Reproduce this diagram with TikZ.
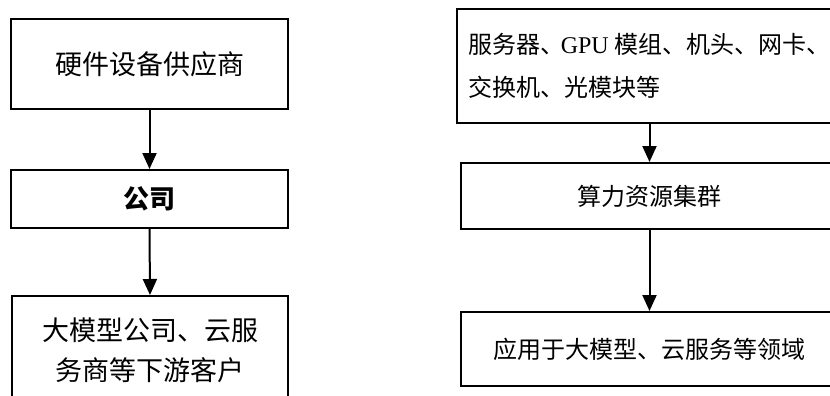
\documentclass[tikz,border=0pt]{standalone}
\usepackage{fontspec}
\setmainfont{Liberation Serif}
\newfontfamily\cjk{Noto Sans CJK SC}
\usetikzlibrary{arrows.meta}
\tikzset{
  box/.style={draw=black, line width=2pt, inner sep=0pt, align=center},
  flow/.style={line width=2pt, -{Triangle[length=16pt,width=14pt]}},
  big/.style={font=\cjk\fontsize{27pt}{40pt}\selectfont},
  small/.style={font=\cjk\fontsize{24pt}{43pt}\selectfont}
}
\begin{document}
\begin{tikzpicture}[x=1pt,y=-1pt]
\useasboundingbox (0,0) rectangle (830,396);
\clip (0,0) rectangle (830,396);
% left column
\node[box, big, minimum width=277pt, minimum height=90pt] (l1) at (149.5,64) {硬件设备供应商};
\node[box, minimum width=277pt, minimum height=58pt, font=\cjk\bfseries\fontsize{26pt}{30pt}\selectfont] (l2) at (149.5,199) {公司};
\node[box, big, minimum width=276pt, minimum height=108pt] (l3) at (150,350) {大模型公司、云服\\务商等下游客户};
\draw[flow] (l1.south) -- (l2.north);
\draw[flow] (l2.south) -- (l3.north);
% right column
\node[box, small, align=left, minimum width=385pt, minimum height=114pt] (r1) at (649.5,66) {服务器、\hspace{-4pt}{\rmfamily GPU} 模组、机头、网卡、\\交换机、光模块等};
\node[box, small, minimum width=377pt, minimum height=66pt] (r2) at (649.5,196) {算力资源集群};
\node[box, small, minimum width=377pt, minimum height=74pt] (r3) at (649.5,349) {应用于大模型、云服务等领域};
\draw[flow] (r1.south) -- (r2.north);
\draw[flow] (r2.south) -- (r3.north);
\end{tikzpicture}
\end{document}
